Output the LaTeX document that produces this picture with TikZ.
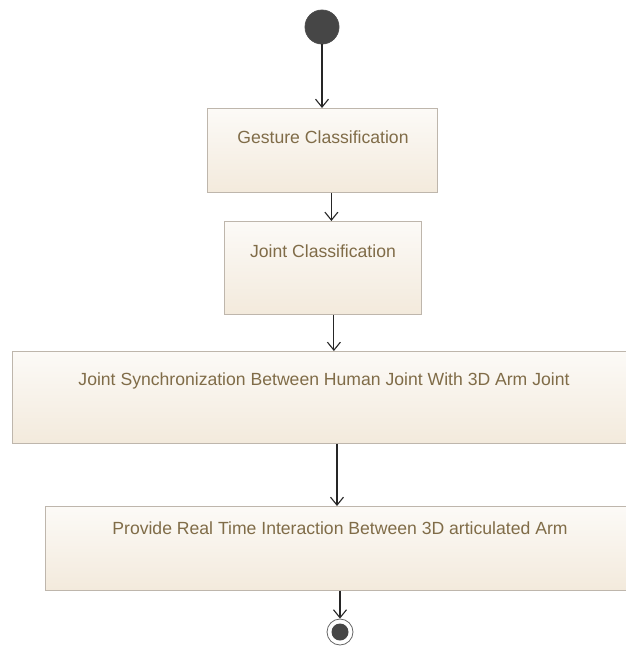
\documentclass[tikz,border=0pt]{standalone}
\usepackage{fontspec}
\setmainfont{Liberation Sans}
\usetikzlibrary{arrows.meta}
\definecolor{boxline}{RGB}{190,182,172}
\definecolor{boxtop}{RGB}{252,250,247}
\definecolor{boxbottom}{RGB}{243,234,220}
\definecolor{labelcol}{RGB}{128,108,72}
\definecolor{dot}{RGB}{70,70,70}
\tikzset{
  actbox/.style={draw=boxline, line width=0.8pt, top color=boxtop, bottom color=boxbottom,
    rectangle, anchor=north west, inner sep=0pt},
  acttext/.style={text=labelcol, font=\fontsize{17.6}{19}\selectfont, inner sep=0pt},
  flow/.style={draw=black!85, line width=1.1pt, -{Straight Barb[length=8pt,width=13pt,line width=1.1pt]}},
  startdot/.style={circle, fill=dot, draw=black!70, line width=0.8pt, minimum size=34pt, inner sep=0pt},
  endring/.style={circle, fill=white, draw=black!60, line width=0.8pt, minimum size=26pt, inner sep=0pt},
  enddot/.style={circle, fill=dot, minimum size=17pt, inner sep=0pt}
}
\begin{document}
\begin{tikzpicture}[x=1pt,y=-1pt]
  \clip (0,0) rectangle (626,659);
  \fill[white] (0,0) rectangle (626,659);

  % initial node
  \node[startdot] (start) at (322,27) {};

  % activities
  \node[actbox, minimum width=230pt, minimum height=84pt] (b1) at (207,108) {};
  \node[acttext] (t1) at (323,137) {Gesture Classification};

  \node[actbox, minimum width=197pt, minimum height=93pt] (b2) at (224,221) {};
  \node[acttext] (t2) at (323,251) {Joint Classification};

  \node[actbox, minimum width=660pt, minimum height=92pt] (b3) at (12,351) {};
  \node[acttext] (t3) at (324,381) {Joint Synchronization Between Human Joint With 3D Arm Joint};

  \node[actbox, minimum width=640pt, minimum height=84pt] (b4) at (45,506) {};
  \node[acttext] (t4) at (340,528) {Provide Real Time Interaction Between 3D articulated Arm};

  % final node
  \node[endring] (final) at (340,632) {};
  \node[enddot] (finaldot) at (final) {};

  % control flow
  \draw[flow] (start.south) -- (start.south |- b1.north);
  \draw[flow] ([xshift=9pt]b1.south) -- ([xshift=9pt]b1.south |- b2.north);
  \draw[flow] ([xshift=11pt]b2.south) -- ([xshift=11pt]b2.south |- b3.north);
  \draw[flow] ([xshift=-3pt]final.north |- b3.south) -- ([xshift=-3pt]final.north |- b4.north);
  \draw[flow] (final.north |- b4.south) -- (final.north);
\end{tikzpicture}
\end{document}
